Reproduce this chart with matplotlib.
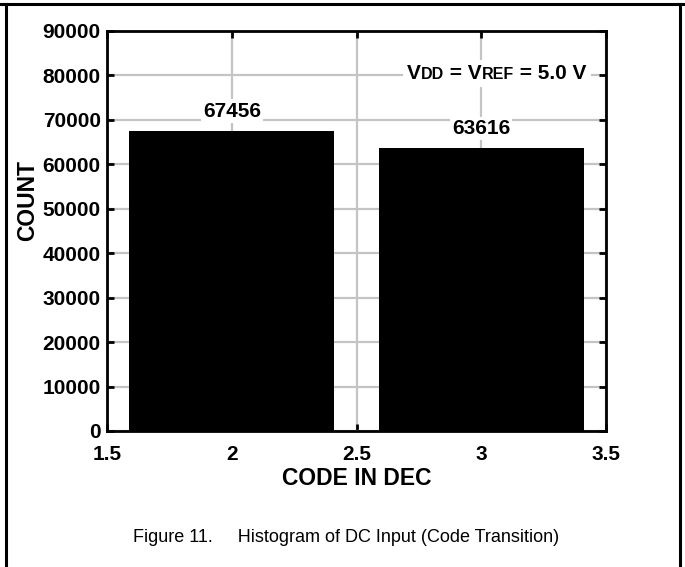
import matplotlib
matplotlib.use('Agg')
import matplotlib.pyplot as plt
from matplotlib.lines import Line2D
from matplotlib.offsetbox import TextArea, HPacker, AnnotationBbox

plt.rcParams['font.family'] = ['Liberation Sans', 'DejaVu Sans']

codes = [2, 3]
counts = [67456, 63616]
xticks = [1.5, 2, 2.5, 3, 3.5]
xtick_labels = ['1.5', '2', '2.5', '3', '3.5']
yticks = [0, 10000, 20000, 30000, 40000, 50000, 60000, 70000, 80000, 90000]
caption = 'Figure 11.     Histogram of DC Input (Code Transition)'

W, H = 685, 567
fig = plt.figure(figsize=(W / 100, H / 100), dpi=100)
ax = fig.add_axes([107 / W, 1 - 431 / H, (606 - 107) / W, (431 - 31) / H])

ax.bar(codes, counts, width=0.82, color='black', zorder=2)
ax.set_xlim(1.5, 3.5)
ax.set_ylim(0, 90000)
ax.set_xticks(xticks)
ax.set_xticklabels(xtick_labels)
ax.set_yticks(yticks)
ax.set_yticklabels([str(v) for v in yticks])

ax.grid(True, color='#c4c4c4', linewidth=1.6, zorder=0)
ax.set_axisbelow(True)
ax.tick_params(direction='in', length=5, width=2, top=True, right=True,
               labelsize=15)
ax.tick_params(axis='x', pad=10)
ax.tick_params(axis='y', pad=4.5)
for lab in ax.get_xticklabels() + ax.get_yticklabels():
    lab.set_fontweight('bold')
for sp in ax.spines.values():
    sp.set_linewidth(2)
    sp.set_zorder(3)

# bar value labels
for x, c in zip(codes, counts):
    ax.text(x, c + 2400, str(c), ha='center', va='bottom', fontsize=15,
            fontweight='bold', zorder=4,
            bbox=dict(facecolor='white', edgecolor='none', pad=1.5))

# supply annotation with small-caps subscripts
parts = [('V', 15), ('DD', 11.5), (' = V', 15), ('REF', 11.5), (' = 5.0 V', 15)]
areas = [TextArea(t, textprops=dict(fontsize=s, fontweight='bold')) for t, s in parts]
pack = HPacker(children=areas, align='baseline', pad=0, sep=0)
ab = AnnotationBbox(pack, (3.063, 80500), xycoords='data', box_alignment=(0.5, 0.5),
                    frameon=True, pad=0.3,
                    bboxprops=dict(facecolor='white', edgecolor='none'))
ab.set_zorder(4)
ax.add_artist(ab)

ax.set_xlabel('CODE IN DEC', fontsize=16.5, fontweight='bold', labelpad=2)
ax.set_ylabel('COUNT', fontsize=16.5, fontweight='bold')
ax.yaxis.set_label_coords(-0.136, 0.576)

fig.text(346 / W, 1 - 537 / H, caption, ha='center', va='center', fontsize=13,
         family=['Liberation Sans Narrow', 'Liberation Sans', 'DejaVu Sans'])

# outer frame
fig.add_artist(Line2D([6 / W, 6 / W], [0, 1 - 4 / H], color='black', lw=2.2,
                      transform=fig.transFigure))
fig.add_artist(Line2D([680 / W, 680 / W], [0, 1 - 4 / H], color='black', lw=2.2,
                      transform=fig.transFigure))
fig.add_artist(Line2D([0, 1], [1 - 4 / H, 1 - 4 / H], color='black', lw=2.2,
                      transform=fig.transFigure))

fig.savefig('out.png', dpi=100)
